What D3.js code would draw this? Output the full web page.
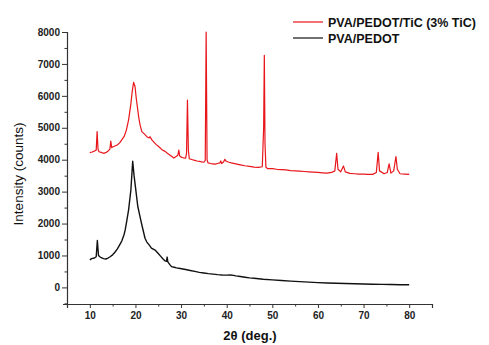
<!DOCTYPE html>
<html><head><meta charset="utf-8">
<script src="https://cdn.jsdelivr.net/npm/d3@7"></script>
<style>body{margin:0;background:#fff}svg{display:block}text{font-family:"Liberation Sans",Arial,sans-serif}</style>
</head><body>
<script>
const seriesNames = ["PVA/PEDOT/TiC (3% TiC)", "PVA/PEDOT"];
const seriesColors = ["#e8161b", "#111111"];
const xTicks = [10, 20, 30, 40, 50, 60, 70, 80];
const yTicks = [0, 1000, 2000, 3000, 4000, 5000, 6000, 7000, 8000];

const redX = [10,10.5,11,11.4,11.6,11.8,12,12.5,13,13.5,14,14.4,14.6,14.8,15,15.5,16,16.5,17,17.5,18,18.5,19,19.3,19.6,19.9,20.2,20.7,21,21.4,22,22.5,23,23.2,23.6,24,24.5,25,25.5,25.8,26.5,27,27.5,28,28.4,29,29.3,29.5,29.7,30,30.5,31,31.2,31.4,31.6,31.8,32.5,33,33.5,34,34.5,35,35.3,35.5,35.7,35.9,36.5,37,37.5,38,38.5,38.7,38.9,39.3,39.6,39.9,40.5,41,42,43,44,45,46,47,47.8,48.1,48.25,48.4,48.6,49,50,51,52,53,54,55,56,57,58,59,60,61,62,63,63.7,64.1,64.4,65,65.6,66,67,68,69,70,71,72,72.8,73.2,73.5,74.5,75.2,75.6,76,76.6,77.1,77.4,78,79,80];
const redY = [4220,4240,4270,4300,4880,4330,4250,4230,4200,4220,4270,4330,4580,4380,4400,4430,4460,4520,4620,4720,4920,5250,5750,6150,6420,6300,5900,5350,5100,4880,4800,4720,4680,4720,4620,4560,4480,4420,4360,4310,4260,4200,4150,4100,4050,4110,4140,4300,4120,4080,4060,4050,4200,5870,4300,4030,4000,3980,3960,3950,3930,3920,3980,8000,4000,3900,3880,3870,3860,3880,3900,3960,3880,3930,4010,3950,3920,3900,3870,3840,3810,3790,3770,3760,3780,5000,7270,4500,3760,3720,3720,3700,3690,3680,3660,3650,3640,3630,3620,3610,3600,3590,3580,3600,3650,4200,3700,3620,3800,3620,3570,3560,3550,3550,3540,3540,3600,4230,3650,3560,3600,3870,3580,3650,4100,3700,3560,3550,3540];

const blackX = [10,10.4,11,11.4,11.65,11.9,12.2,12.5,13,13.5,14,14.45,15,15.5,16,16.3,17,17.5,17.75,18,18.5,19,19.4,19.7,20,20.5,21,21.5,22.1,22.5,23,23.5,24.3,25,25.5,26,26.5,26.8,26.95,27.1,27.5,27.9,28.5,29,29.8,31,32,33,34,35,36,37,38,39,40,40.8,41.5,42,43,44,45,46,47,48,50,52,54,56,58,60,62,64,66,68,70,72,74,76,78,80];
const blackY = [860,900,920,960,1470,1000,960,930,900,890,920,960,1020,1100,1200,1270,1450,1650,1800,2000,2430,3050,3950,3500,3150,2550,2220,1900,1540,1420,1330,1230,1170,1060,980,900,830,820,950,800,720,650,630,610,590,560,530,500,470,450,430,415,400,390,385,390,375,360,340,320,300,285,270,255,235,215,195,180,165,150,140,128,120,112,106,100,95,90,85,82];

const W = 489, H = 345;
const svg = d3.select("body").append("svg").attr("width", W).attr("height", H);
const x = d3.scaleLinear().domain([5, 85]).range([67, 432]);
const y = d3.scaleLinear().domain([-520, 8000]).range([304, 32]);

const xAxis = svg.append("g").attr("transform", `translate(0,${y(-520)})`)
  .call(d3.axisBottom(x).tickValues(d3.range(5, 86, 5)).tickSize(4)
    .tickFormat(d => xTicks.includes(d) ? d : ""));
xAxis.selectAll(".tick line").attr("y2", d => xTicks.includes(d) ? 4 : 2.5);
const yAxis = svg.append("g").attr("transform", `translate(${x(5)},0)`)
  .call(d3.axisLeft(y).tickValues(d3.range(-500, 8001, 500)).tickSize(4)
    .tickFormat(d => yTicks.includes(d) ? d : ""));
yAxis.selectAll(".tick line").attr("x2", d => yTicks.includes(d) ? -5 : -2.5);
[xAxis, yAxis].forEach(g => {
  g.select(".domain").attr("stroke", "#333").attr("stroke-width", 1.2);
  g.selectAll(".tick line").attr("stroke", "#333");
  g.selectAll("text").attr("font-size", 10).attr("font-weight", "bold")
    .attr("font-family", "Liberation Sans, Arial, sans-serif").attr("fill", "#222");
});
yAxis.selectAll("text").attr("x", -7);
xAxis.selectAll("text").attr("y", 8);

const line = d3.line().x(d => x(d[0])).y(d => y(d[1]));
const redData = redX.map((v, i) => [v, redY[i]]);
const blackData = blackX.map((v, i) => [v, blackY[i]]);
svg.append("path").datum(blackData).attr("d", line).attr("fill", "none")
  .attr("stroke", seriesColors[1]).attr("stroke-width", 1.4).attr("stroke-linejoin", "round");
svg.append("path").datum(redData).attr("d", line).attr("fill", "none")
  .attr("stroke", seriesColors[0]).attr("stroke-width", 1.2).attr("stroke-linejoin", "round");

svg.append("text").attr("x", 250).attr("y", 340).attr("text-anchor", "middle")
  .attr("font-size", 13).attr("font-weight", "bold").attr("fill", "#111").text("2θ (deg.)");
svg.append("text").attr("transform", "translate(23,174) rotate(-90)").attr("text-anchor", "middle")
  .attr("font-size", 13.5).attr("fill", "#111").text("Intensity (counts)");

const lg = svg.append("g");
seriesNames.forEach((n, i) => {
  const yy = 22 + i * 16;
  lg.append("line").attr("x1", 293).attr("x2", 323).attr("y1", yy).attr("y2", yy)
    .attr("stroke", seriesColors[i]).attr("stroke-width", 1.2);
  lg.append("text").attr("x", 328).attr("y", yy + 4.5).attr("font-size", 12.5)
    .attr("font-weight", "bold").attr("fill", "#111").text(n);
});
</script>
</body></html>
